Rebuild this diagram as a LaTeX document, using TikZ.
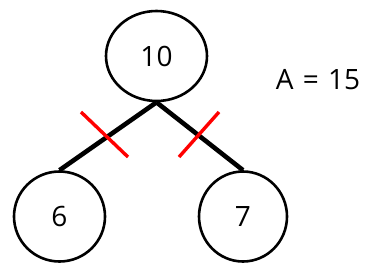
\documentclass[tikz,border=0pt]{standalone}
\usepackage{fontspec}
\setmainfont{Open Sans}
\usetikzlibrary{shapes.geometric}
\begin{document}
\begin{tikzpicture}[x=1pt,y=-1pt,
  vnode/.style={draw,line width=2.6pt,ellipse,inner sep=0pt,font=\fontsize{28}{32}\selectfont},
  edge/.style={line width=4.6pt},
  cut/.style={red,line width=3.4pt}]
\useasboundingbox (0,0) rectangle (377,271);
\node[vnode,minimum width=101pt,minimum height=90pt] (r) at (156.5,56) {10};
\node[vnode,minimum width=91pt,minimum height=90pt] (l) at (59.5,216.5) {6};
\node[vnode,minimum width=88pt,minimum height=90pt] (rr) at (243,216.5) {7};
\node[font=\fontsize{28}{32}\selectfont] (a) at (318,80) {A\,\,=\,\,15};
\draw[edge] (r.south) -- (l.north);
\draw[edge] (r.south) -- (rr.north);
\coordinate (c1a) at (81,112); \coordinate (c1b) at (128,157);
\coordinate (c2a) at (219,112); \coordinate (c2b) at (179,157);
\draw[cut] (c1a) -- (c1b);
\draw[cut] (c2a) -- (c2b);
\end{tikzpicture}
\end{document}
